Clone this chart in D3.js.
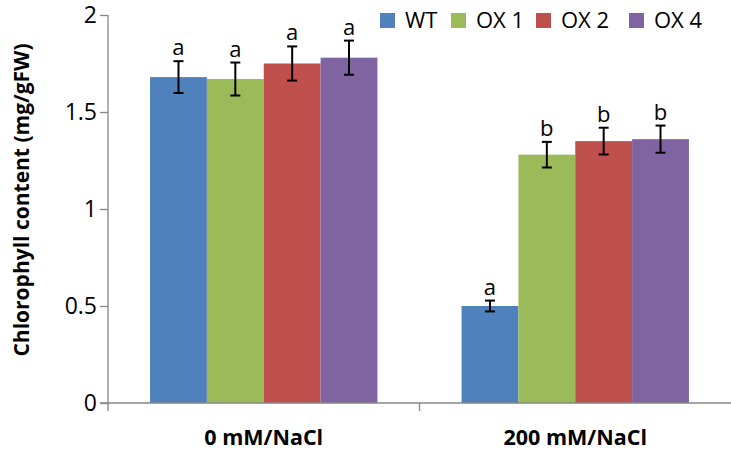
<!DOCTYPE html>
<html>
<head>
<meta charset="utf-8">
<script src="https://cdn.jsdelivr.net/npm/d3@7"></script>
<style>
  body { margin: 0; background: #fff; }
  text { font-family: "Open Sans", sans-serif; fill: #000; }
</style>
</head>
<body>
<div id="chart"></div>
<script>
const groups = ["0 mM/NaCl", "200 mM/NaCl"]
const lines = ["WT", "OX 1", "OX 2", "OX 4"]
const colors = ["#4F81BD", "#9BBB59", "#C0504D", "#8064A2"]
const means = [
    [1.68, 1.67, 1.75, 1.78],
    [0.50, 1.28, 1.35, 1.36]
]
const errs = [
    [0.082, 0.085, 0.088, 0.088],
    [0.028, 0.066, 0.069, 0.070]
]
const letters = [
    ["a", "a", "a", "a"],
    ["a", "b", "b", "b"]
]
const yTicks = [0, 0.5, 1, 1.5, 2]

const W = 731, H = 457
const m = {t: 15, r: 0, b: 54, l: 108}

const svg = d3.select("#chart").append("svg")
    .attr("width", W).attr("height", H)

const x0 = d3.scaleBand().domain(groups).range([m.l, W - m.r]).paddingInner(0).paddingOuter(0)
const x1 = d3.scaleBand().domain(lines).range([0, x0.bandwidth()]).paddingInner(0).paddingOuter(0.74)
const y = d3.scaleLinear().domain([0, 2]).range([H - m.b, m.t])

// bars
const g = svg.selectAll(".grp").data(groups).enter().append("g")
    .attr("transform", d => "translate(" + x0(d) + ",0)")

g.each(function(grp, gi) {
    const sel = d3.select(this)
    const rows = lines.map((l, i) => ({l, i, v: means[gi][i], e: errs[gi][i], t: letters[gi][i]}))

    sel.selectAll("rect").data(rows).enter().append("rect")
        .attr("x", d => x1(d.l))
        .attr("y", d => y(d.v))
        .attr("width", x1.bandwidth())
        .attr("height", d => y(0) - y(d.v))
        .attr("fill", d => colors[d.i])

    // error bars
    const eb = sel.selectAll(".eb").data(rows).enter().append("g").attr("class", "eb")
        .attr("stroke", "#000").attr("stroke-width", 2)
    const cx = d => x1(d.l) + x1.bandwidth() / 2
    eb.append("line").attr("x1", cx).attr("x2", cx)
        .attr("y1", d => y(d.v + d.e)).attr("y2", d => y(d.v - d.e))
    eb.append("line").attr("x1", d => cx(d) - 5).attr("x2", d => cx(d) + 5)
        .attr("y1", d => y(d.v + d.e)).attr("y2", d => y(d.v + d.e))
    eb.append("line").attr("x1", d => cx(d) - 5).attr("x2", d => cx(d) + 5)
        .attr("y1", d => y(d.v - d.e)).attr("y2", d => y(d.v - d.e))

    // significance letters
    sel.selectAll(".sig").data(rows).enter().append("text").attr("class", "sig")
        .attr("x", cx)
        .attr("y", d => y(d.v + d.e) - 6)
        .attr("text-anchor", "middle")
        .style("font-size", "22px")
        .text(d => d.t)
})

// y axis
const yAxis = svg.append("g")
    .attr("transform", "translate(" + m.l + ",0)")
    .call(d3.axisLeft(y).tickValues(yTicks).tickSize(8).tickPadding(3).tickFormat(d3.format("")))
yAxis.select(".domain").attr("d", "M0," + (m.t) + "V" + (H - m.b + 8))
yAxis.selectAll("text").style("font-size", "23px").attr("font-family", null)
yAxis.selectAll("line, path").attr("stroke", "#868686").attr("stroke-width", 1.3)

// x axis
const xAxis = svg.append("g")
    .attr("transform", "translate(0," + (H - m.b) + ")")
xAxis.append("line").attr("x1", m.l - 8).attr("x2", W).attr("y1", 0).attr("y2", 0)
xAxis.selectAll(".xt").data(groups.slice(1)).enter().append("line")
    .attr("x1", d => x0(d)).attr("x2", d => x0(d)).attr("y1", 0).attr("y2", 8)
xAxis.selectAll("line").attr("stroke", "#868686").attr("stroke-width", 1.3)
xAxis.selectAll("text").data(groups).enter().append("text")
    .attr("x", d => x0(d) + x0.bandwidth() / 2)
    .attr("y", 42)
    .attr("text-anchor", "middle")
    .style("font-size", "21.5px").style("font-weight", "bold")
    .text(d => d)

// y title
svg.append("text")
    .attr("transform", "translate(29,200) rotate(-90)")
    .attr("text-anchor", "middle")
    .style("font-size", "21px").style("font-weight", "bold")
    .text("Chlorophyll content (mg/gFW)")

// legend
const legX = [380, 451, 536, 629]
const leg = svg.selectAll(".leg").data(lines).enter().append("g")
    .attr("transform", (d, i) => "translate(" + legX[i] + ",13)")
leg.append("rect").attr("width", 15).attr("height", 15).attr("fill", (d, i) => colors[i])
leg.append("text").attr("x", 25).attr("y", 15)
    .style("font-size", "22px")
    .text(d => d)
</script>
</body>
</html>
